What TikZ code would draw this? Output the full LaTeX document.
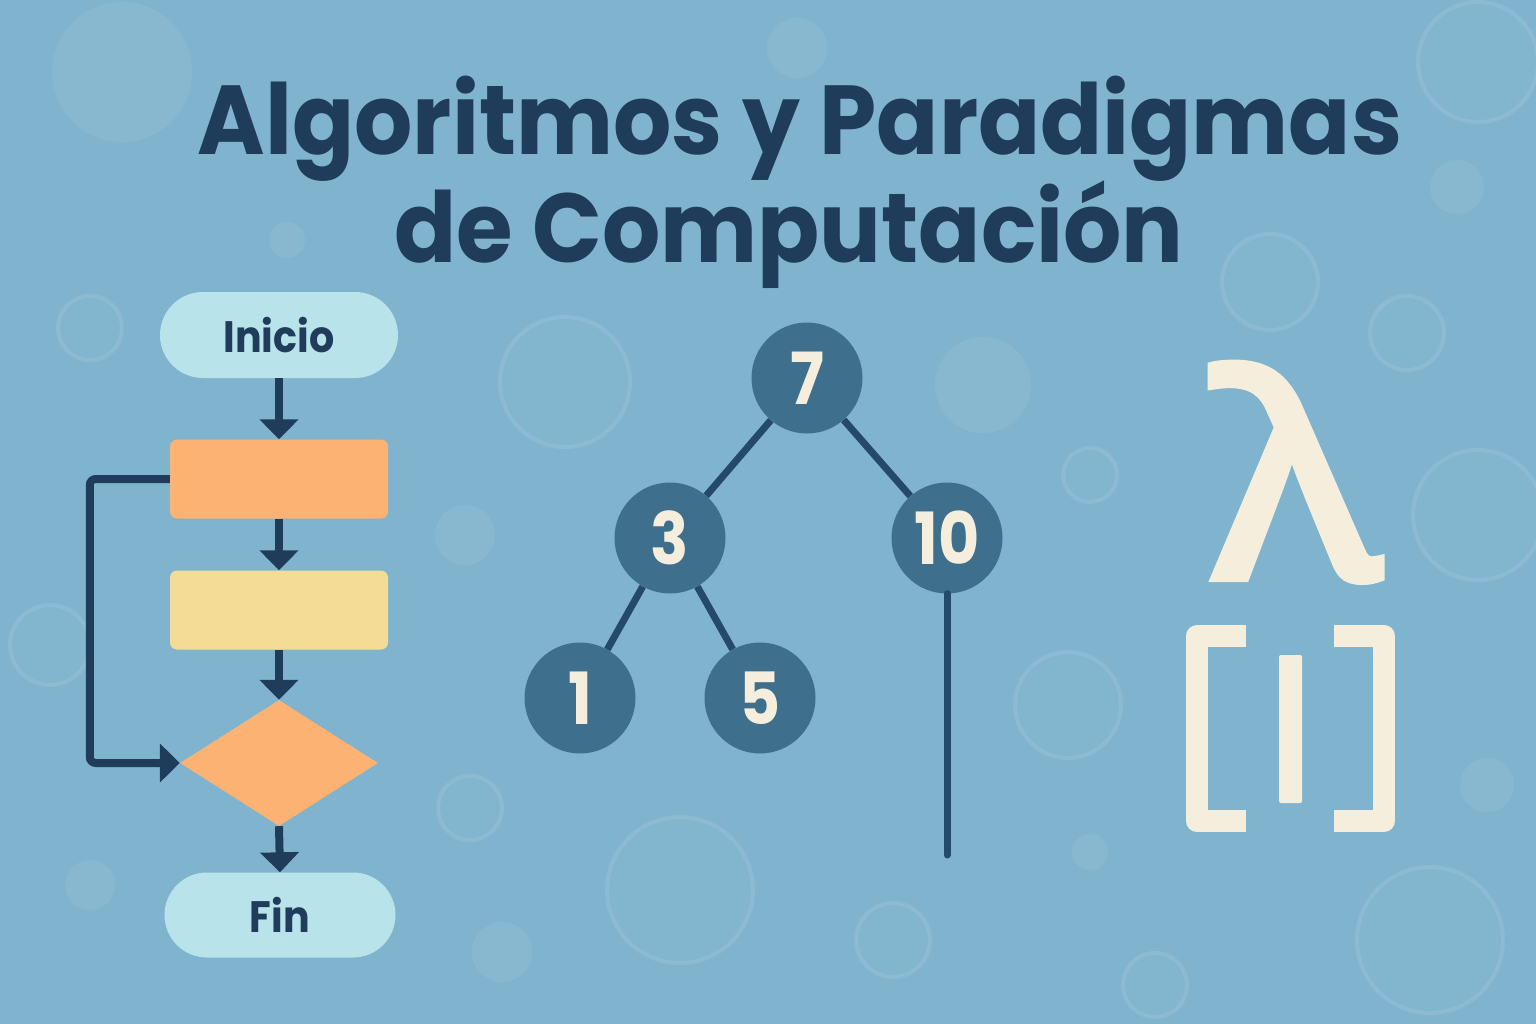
\documentclass[tikz,border=0pt]{standalone}
\usepackage{fontspec}
\setmainfont{Poppins}
\newfontfamily\titlefont[FakeStretch=0.935]{Poppins}
\newfontfamily\labelfont[FakeStretch=0.9]{Poppins}
\newfontfamily\numfont[FakeStretch=0.88]{Poppins}
\newfontfamily\lamfont[FakeStretch=1.16,FakeBold=3]{Noto Sans}
\usetikzlibrary{shapes.geometric,shapes.misc,arrows.meta}
\definecolor{bgblue}{RGB}{128,180,206}
\definecolor{navy}{RGB}{31,61,90}
\definecolor{edgenavy}{RGB}{36,73,106}
\definecolor{treenode}{RGB}{62,111,141}
\definecolor{cream}{RGB}{245,238,220}
\definecolor{orangebox}{RGB}{252,178,114}
\definecolor{yellowbox}{RGB}{245,220,150}
\definecolor{pill}{RGB}{185,227,234}
\tikzset{
  bubble/.style={fill=white, fill opacity=0.06, draw=none},
  ring/.style={draw=white, draw opacity=0.09, line width=4pt, fill=white, fill opacity=0.02},
  pillbox/.style={rounded rectangle, fill=pill, text=navy, inner sep=0pt, font=\labelfont\fontsize{44}{50}\selectfont\bfseries},
  procbox/.style={rectangle, rounded corners=7pt, minimum width=218pt, minimum height=79pt, inner sep=0pt},
  decbox/.style={diamond, fill=orangebox, minimum width=198pt, minimum height=126pt, inner sep=0pt},
  flowarrow/.style={draw=navy, line width=8pt, -{Triangle[width=38pt,length=20pt]}},
  treenode/.style={circle, fill=treenode, text=cream, minimum size=111pt, inner sep=0pt, font=\numfont\fontsize{72}{76}\selectfont\bfseries},
  treeedge/.style={draw=edgenavy, line width=7pt},
  titletext/.style={text=navy, font=\titlefont\fontsize{98}{100}\selectfont\bfseries, anchor=base},
}
\begin{document}
\begin{tikzpicture}[x=1pt,y=-1pt]
\fill[bgblue] (0,0) rectangle (1536,1024);
\useasboundingbox (0,0) rectangle (1536,1024);
% decorative circles
\fill[bubble] (122,72) circle (70);
\fill[bubble] (797,48) circle (30);
\draw[ring] (1478,62) circle (60);
\fill[bubble] (1457,187) circle (27);
\fill[bubble] (287,240) circle (18);
\draw[ring] (1270,282) circle (48);
\draw[ring] (90,328) circle (32);
\draw[ring] (565,382) circle (65);
\fill[bubble] (983,385) circle (48);
\draw[ring] (1407,333) circle (37);
\draw[ring] (1090,475) circle (27);
\fill[bubble] (465,535) circle (30);
\draw[ring] (1478,515) circle (65);
\draw[ring] (50,645) circle (40);
\draw[ring] (1068,705) circle (53);
\fill[bubble] (1487,785) circle (27);
\draw[ring] (470,808) circle (32);
\draw[ring] (680,890) circle (73);
\fill[bubble] (90,885) circle (25);
\fill[bubble] (1090,852) circle (18);
\draw[ring] (893,940) circle (37);
\fill[bubble] (502,952) circle (30);
\draw[ring] (1155,985) circle (32);
\draw[ring] (1430,940) circle (73);
% title
\node[titletext] (t1) at (800,155) {Algoritmos y Paradigmas};
\node[titletext] (t2) at (789,262) {de Computación};
% flowchart
\node[pillbox, minimum width=238pt, minimum height=86pt] (inicio) at (279,335) {Inicio};
\node[procbox, fill=orangebox] (p1) at (279,479) {};
\node[procbox, fill=yellowbox] (p2) at (279,610) {};
\node[decbox] (dec) at (279,763) {};
\node[pillbox, minimum width=231pt, minimum height=85pt] (fin) at (280,915) {Fin};
\draw[flowarrow] (inicio.south) -- (p1.north);
\draw[flowarrow] (p1.south) -- (p2.north);
\draw[flowarrow] (p2.south) -- (dec.north);
\draw[flowarrow] (dec.south) -- (fin.north);
\draw[flowarrow, rounded corners=6pt] (p1.west) -- ++(-80,0) |- (dec.west);
% tree
\node[treenode] (n7) at (807,378) {7};
\node[treenode] (n3) at (670,538) {3};
\node[treenode] (n10) at (947,538) {10};
\node[treenode] (n1) at (580,698) {1};
\node[treenode] (n5) at (760,698) {5};
\coordinate (tail) at (947,855);
\draw[treeedge] (n7) -- (n3);
\draw[treeedge] (n7) -- (n10);
\draw[treeedge] (n3) -- (n1);
\draw[treeedge] (n3) -- (n5);
\draw[treeedge, line cap=round] (n10.south) -- (tail);
% lambda and list
\node[text=cream, font=\lamfont\fontsize{280}{300}\selectfont, anchor=base] (lam) at (1296,578) {λ};
\draw[draw=cream, line width=22pt, line join=round] (1246,636) -- (1197,636) -- (1197,821) -- (1246,821);
\fill[cream, rounded corners=2pt] (1279,655) rectangle (1302,803);
\draw[draw=cream, line width=22pt, line join=round] (1334,636) -- (1384,636) -- (1384,821) -- (1334,821);
\end{tikzpicture}
\end{document}
